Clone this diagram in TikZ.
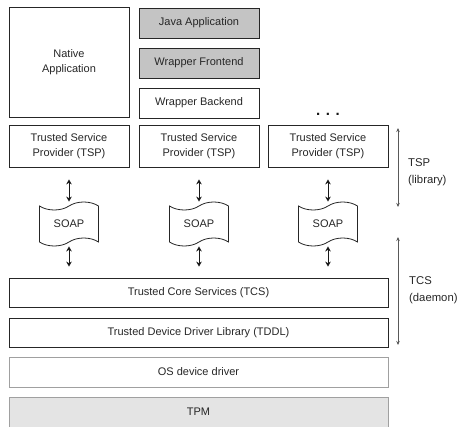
\documentclass[tikz,border=0pt]{standalone}
\usepackage{fontspec}
\setmainfont{Liberation Sans}
\usepackage{tikz}
\usetikzlibrary{arrows.meta,shapes.symbols}
\definecolor{boxgray}{HTML}{C4C4C4}
\definecolor{tpmgray}{HTML}{E4E4E4}
\definecolor{edgegray}{HTML}{A0A0A0}
\tikzset{
	layer/.style={draw=black!85, line width=0.8pt, inner sep=0pt, align=center, text=black!85,
		font=\fontsize{11}{14.5}\selectfont},
	javabox/.style={layer, fill=boxgray},
	softlayer/.style={layer, draw=edgegray},
	soapbox/.style={layer, shape=tape, tape bend top=in and out, tape bend bottom=in and out,
		tape bend height=8pt, minimum width=59pt, minimum height=44pt},
	dblarrow/.style={line width=0.9pt, black!90, {Stealth[length=5pt,width=5.5pt]}-{Stealth[length=5pt,width=5.5pt]}},
	sidearrow/.style={line width=0.6pt, black!65, {Stealth[length=4pt,width=3.5pt]}-{Stealth[length=4pt,width=3.5pt]}},
	sidelabel/.style={anchor=west, align=left, inner sep=0pt, text=black!85,
		font=\fontsize{11.3}{17}\selectfont}
}

\begin{document}
\begin{tikzpicture}[x=1pt, y=-1pt]
			%%%%% START %%%%%
			\useasboundingbox (0,0) rectangle (458,426);
			\clip (0,0) rectangle (458,426);
			
			% applications
			\node[layer, minimum width=120pt, minimum height=110pt] (native) at (69,62) {Native\\Application};
			\node[javabox, minimum width=120pt, minimum height=30pt] (java) at (199,23) {Java Application};
			\node[javabox, minimum width=120pt, minimum height=30pt] (wfront) at (199,63) {Wrapper Frontend};
			\node[layer, minimum width=120pt, minimum height=30pt] (wback) at (199,103) {Wrapper Backend};
			\node[anchor=base, text=black!90, font=\fontsize{15}{15}\bfseries] (more) at (328,115) {. . .};
			
			% service providers and soap
			\foreach \x/\i in {69/1, 199/2, 328/3}{
				\node[layer, minimum width=120pt, minimum height=42pt] (tsp\i) at (\x,146) {Trusted Service\\Provider (TSP)};
				\node[soapbox] (soap\i) at (\x,224) {SOAP};
			}
			
			% core layers
			\node[layer, minimum width=379pt, minimum height=29pt] (tcs) at (198.5,292.5) {Trusted Core Services (TCS)};
			\node[layer, minimum width=379pt, minimum height=29pt] (tddl) at (198.5,332.5) {Trusted Device Driver Library (TDDL)};
			\node[softlayer, minimum width=379pt, minimum height=30pt] (osdrv) at (198.5,372) {OS device driver};
			\node[softlayer, fill=tpmgray, minimum width=379pt, minimum height=40pt] (tpm) at (198.5,417) {};
			\node[text=black!85, font=\fontsize{11}{14.5}\selectfont] (tpmlbl) at (198.5,412) {TPM};
			
			\foreach \i in {1,2,3}{
				\draw[dblarrow, shorten <=12pt, shorten >=4pt] (tsp\i.south) -- (soap\i.north);
				\draw[dblarrow, shorten <=4pt, shorten >=11pt] (soap\i.south) -- (tcs.north -| soap\i.south);
			}
			
			% side markers
			\coordinate (tsptop) at (398,128);
			\coordinate (tspbot) at (398,207);
			\coordinate (tcstop) at (398,237);
			\coordinate (tcsbot) at (398,345);
			\draw[sidearrow] (tsptop) -- (tspbot);
			\draw[sidearrow] (tcstop) -- (tcsbot);
			\node[sidelabel] (tsplbl) at (408,172) {TSP\\(library)};
			\node[sidelabel] (tcslbl) at (409,290) {TCS\\(daemon)};
			
			%%%%% END %%%%%
		\end{tikzpicture}
\end{document}
